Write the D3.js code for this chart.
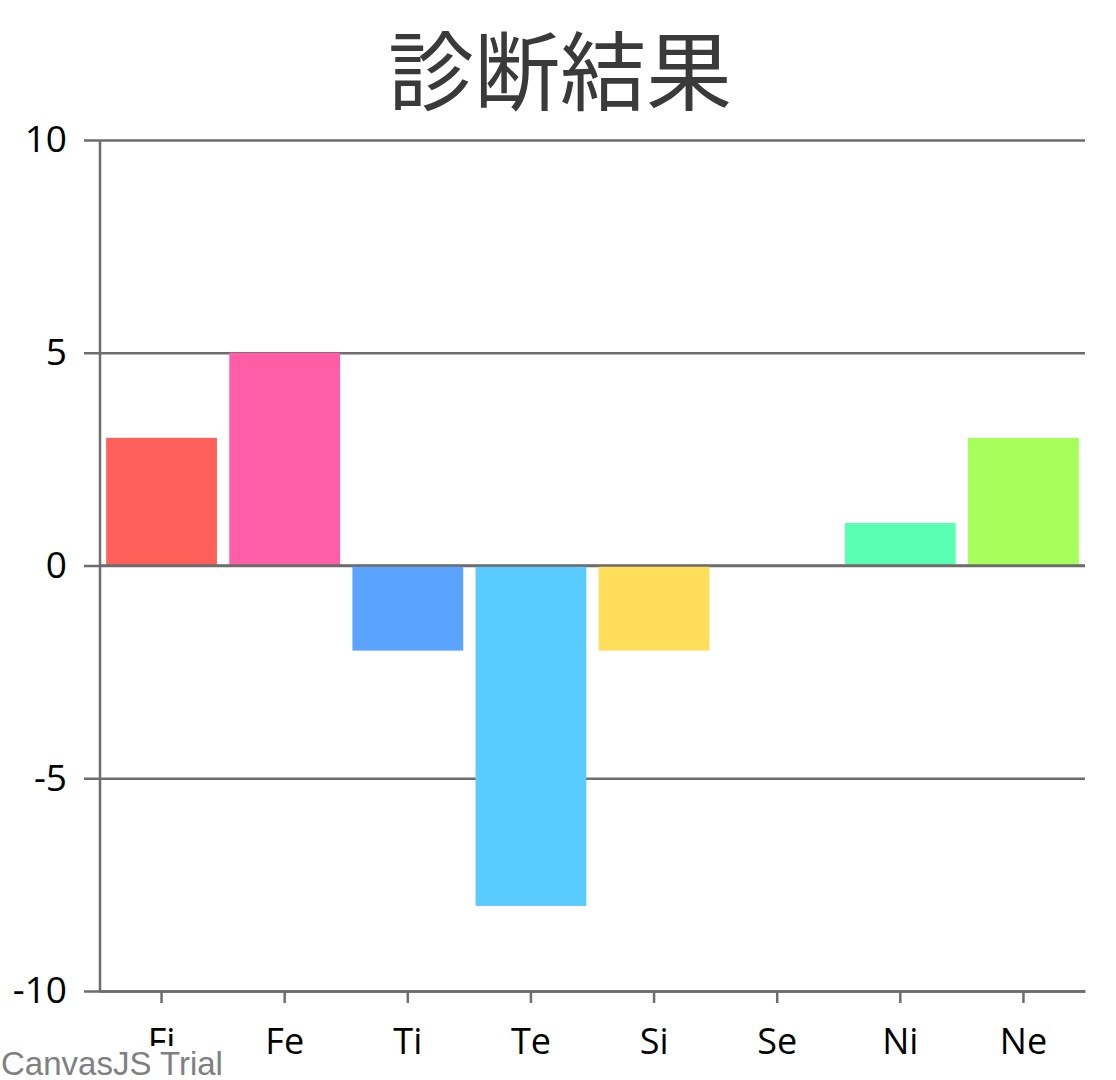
<!DOCTYPE html>
<html>
<head>
<meta charset="utf-8">
<script src="https://cdn.jsdelivr.net/npm/d3@7"></script>
<style>
  html, body { margin: 0; padding: 0; background: #fff; }
  svg { display: block; }
</style>
</head>
<body>
<svg id="chart"></svg>
<script>
/* global d3 */
// chart data
const categories = ["Fi", "Fe", "Ti", "Te", "Si", "Se", "Ni", "Ne"];
const values = [3, 5, -2, -8, -2, 0, 1, 3];
const barColors = ["#FF615A", "#FF5DA5", "#5AA4FF", "#5ACBFF", "#FFDE5A", "#FFFFFF", "#5AFFB4", "#A6FF5A"];
const yTicks = [-10, -5, 0, 5, 10];
const chartTitle = "診断結果";

// dimension constants
const width = 1116;
const height = 1080;
const plotLeft = 100, plotRight = 1085, plotTop = 140, plotBottom = 991;
const gridColor = "#6d6d6d";
const labelFont = "'Open Sans', 'DejaVu Sans', sans-serif";

const svg = d3.select("#chart")
  .attr("width", width)
  .attr("height", height);

const x = d3.scaleBand()
  .domain(categories)
  .range([plotLeft, plotRight])
  .paddingInner(0.1)
  .paddingOuter(0.05);

const y = d3.scaleLinear()
  .domain([-10, 10])
  .range([plotBottom, plotTop]);

// title
svg.append("text")
  .attr("x", width / 2 + 2)
  .attr("y", 104)
  .attr("text-anchor", "middle")
  .style("font-family", "'Noto Sans CJK JP', sans-serif")
  .style("font-size", "86px")
  .style("fill", "#3a3a3a")
  .text(chartTitle);

// horizontal grid + y axis
const yAxis = d3.axisLeft(y)
  .tickValues(yTicks)
  .tickSize(-(plotRight - plotLeft) - 16)
  .tickPadding(16)
  .tickFormat(d => String(d));   // plain hyphen like the original

const gy = svg.append("g")
  .attr("transform", `translate(${plotLeft - 16},0)`)
  .call(yAxis);
gy.select(".domain").remove();
gy.selectAll(".tick line")
  .attr("stroke", gridColor)
  .attr("stroke-width", 2.5);
gy.selectAll(".tick text")
  .attr("x", -17)
  .style("font-family", labelFont)
  .style("font-size", "37px")
  .style("fill", "#000");

// bars
svg.append("g")
  .selectAll("rect")
  .data(categories.map((c, i) => ({ c, v: values[i], color: barColors[i] })))
  .join("rect")
    .attr("x", d => x(d.c))
    .attr("width", x.bandwidth())
    .attr("y", d => y(Math.max(0, d.v)))
    .attr("height", d => Math.abs(y(d.v) - y(0)))
    .attr("fill", d => d.color);

// zero line drawn over bar edges
svg.append("line")
  .attr("x1", plotLeft).attr("x2", plotRight)
  .attr("y1", y(0)).attr("y2", y(0))
  .attr("stroke", gridColor)
  .attr("stroke-width", 2.5);

// y axis line
svg.append("line")
  .attr("x1", plotLeft).attr("x2", plotLeft)
  .attr("y1", plotTop).attr("y2", plotBottom)
  .attr("stroke", gridColor)
  .attr("stroke-width", 2.5);

// x axis
const xAxis = d3.axisBottom(x)
  .tickSize(12)
  .tickPadding(25)
  .tickSizeOuter(0);

const gx = svg.append("g")
  .attr("transform", `translate(0,${plotBottom})`)
  .call(xAxis);
gx.select(".domain")
  .attr("stroke", gridColor)
  .attr("stroke-width", 2.5);
gx.selectAll(".tick line")
  .attr("stroke", gridColor)
  .attr("stroke-width", 2.5);
gx.selectAll(".tick text")
  .style("font-family", labelFont)
  .style("font-size", "36px")
  .style("fill", "#000");

// trial watermark (covers the bottom of the first label, as in the original)
svg.append("rect")
  .attr("x", 0).attr("y", 1046)
  .attr("width", 228).attr("height", 34)
  .attr("fill", "#fff");
svg.append("text")
  .attr("x", 1)
  .attr("y", 1075)
  .style("font-family", "'Liberation Sans', Arial, sans-serif")
  .style("font-size", "33px")
  .style("fill", "#808080")
  .text("CanvasJS Trial");
</script>
</body>
</html>
